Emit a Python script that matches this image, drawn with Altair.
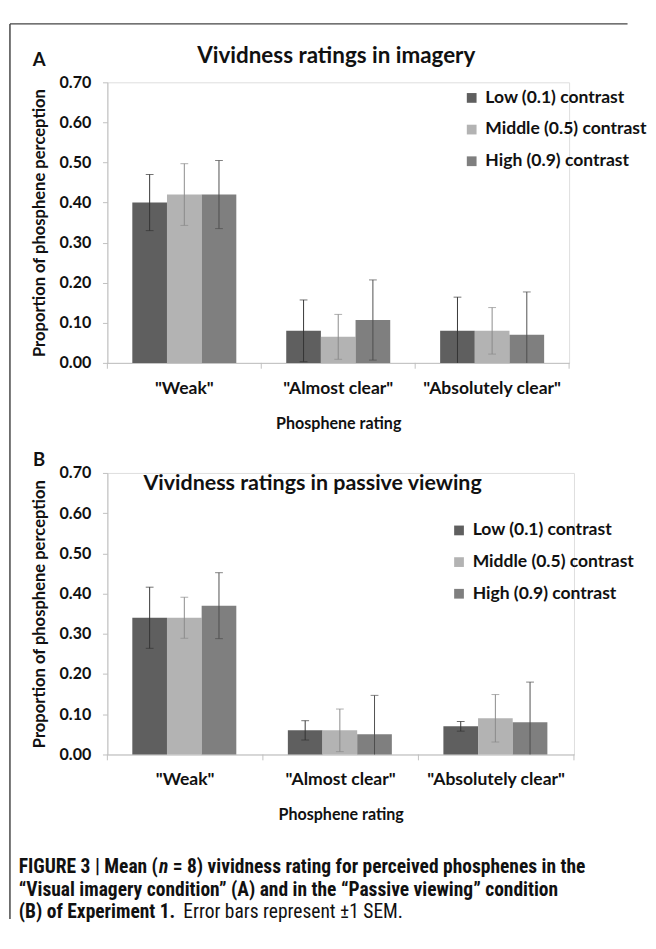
import altair as alt
import pandas as pd

categories = ['"Weak"', '"Almost clear"', '"Absolutely clear"']
series = ["Low (0.1) contrast", "Middle (0.5) contrast", "High (0.9) contrast"]
bar_colors = ["#5f5f5f", "#b3b3b3", "#7f7f7f"]
err_colors = ["#333333", "#8a8a8a", "#4d4d4d"]

# Panel A (imagery): means and SEM per contrast, across the three ratings
a_low = [0.40, 0.08, 0.08]
a_mid = [0.42, 0.065, 0.08]
a_high = [0.42, 0.107, 0.07]
a_low_sem = [0.07, 0.077, 0.084]
a_mid_sem = [0.077, 0.056, 0.058]
a_high_sem = [0.085, 0.10, 0.107]

# Panel B (passive viewing)
b_low = [0.34, 0.06, 0.07]
b_mid = [0.34, 0.06, 0.09]
b_high = [0.37, 0.05, 0.08]
b_low_sem = [0.076, 0.024, 0.012]
b_mid_sem = [0.051, 0.053, 0.059]
b_high_sem = [0.082, 0.097, 0.10]

y_ticks = [0.0, 0.1, 0.2, 0.3, 0.4, 0.5, 0.6, 0.7]

caption_l1 = ["FIGURE 3 | Mean (", "n", "= 8) vividness rating for perceived phosphenes in the"]
caption_l2 = ["\u201cVisual imagery condition\u201d (A) and in the \u201cPassive viewing\u201d condition"]
caption_l3 = ["(B) of Experiment 1.", "Error bars represent \u00b11 SEM."]

FONT = "Lato"
CAP_FONT = "Roboto Condensed"
CAP_SIZE = 20
TXT = "#111111"
AX = "#bfbfbf"


def make_df(means_list, sems_list):
    rows = []
    for s, means, sems in zip(series, means_list, sems_list):
        for c, m, e in zip(categories, means, sems):
            lo = m - e
            rows.append({
                "cat": c, "series": s, "value": m,
                "lo": max(0.0, lo), "hi": m + e,
                "locap": lo if lo >= 0 else None,
            })
    return pd.DataFrame(rows)


def xscale():
    return alt.Scale(domain=categories, paddingInner=0, paddingOuter=0)


def yscale():
    return alt.Scale(domain=[0, 0.7], nice=False)


def txt(text, x, y, size, weight="bold", align="left", font=FONT, style="normal"):
    return alt.Chart(pd.DataFrame({"t": [text]})).mark_text(
        font=font, fontSize=size, fontWeight=weight, fontStyle=style, color=TXT,
        align=align, baseline="middle"
    ).encode(x=alt.value(x), y=alt.value(y), text="t:N")


X_AXIS = alt.Axis(
    title="Phosphene rating", ticks=False, labelAngle=0,
    labelFont=FONT, labelFontSize=18, labelFontWeight="bold", labelColor=TXT,
    labelPadding=17, domainColor=AX, domainWidth=1,
    titleFont=FONT, titleFontSize=16.5, titleFontWeight="bold", titleColor=TXT,
    titlePadding=19,
)
Y_AXIS = alt.Axis(
    values=y_ticks, format=".2f", grid=False,
    labelFont=FONT, labelFontSize=16.5, labelFontWeight="bold", labelColor=TXT,
    labelPadding=12, tickColor=AX, tickSize=5, domainColor=AX,
    title="Proportion of phosphene perception",
    titleFont=FONT, titleFontSize=17, titleFontWeight="bold", titleColor=TXT,
    titlePadding=11,
)


def panel(df, H, title, title_size, title_x, title_y, title_align, letter, letter_y, lgx, lgy):
    x_enc = alt.X("cat:N", sort=categories, scale=xscale(), axis=X_AXIS)
    xoff = alt.XOffset("series:N", sort=series,
                       scale=alt.Scale(domain=series, paddingInner=0, paddingOuter=0.72))
    base = alt.Chart(df).encode(x=x_enc, xOffset=xoff)
    bars = base.mark_bar().encode(
        y=alt.Y("value:Q", scale=yscale(), axis=Y_AXIS),
        color=alt.Color(
            "series:N", sort=series, scale=alt.Scale(domain=series, range=bar_colors),
            legend=alt.Legend(
                orient="none", legendX=lgx, legendY=lgy, title=None,
                symbolType="square", symbolSize=100, symbolStrokeWidth=0,
                labelFont=FONT, labelFontSize=18, labelFontWeight="bold",
                labelColor=TXT, rowPadding=14.5, labelOffset=5, padding=0,
                labelLimit=400,
            ),
        ),
    )
    err = base.mark_rule(strokeWidth=1).encode(
        y=alt.Y("lo:Q", scale=yscale(), axis=Y_AXIS),
        y2="hi:Q",
        stroke=alt.Stroke("series:N", sort=series,
                          scale=alt.Scale(domain=series, range=err_colors), legend=None),
    )
    cap_fill = alt.Fill("series:N", sort=series,
                        scale=alt.Scale(domain=series, range=err_colors), legend=None)
    cap_hi = base.mark_tick(thickness=1, size=8, orient="horizontal").encode(
        y=alt.Y("hi:Q", scale=yscale(), axis=Y_AXIS), fill=cap_fill)
    cap_lo = base.mark_tick(thickness=1, size=8, orient="horizontal").encode(
        y=alt.Y("locap:Q", scale=yscale(), axis=Y_AXIS), fill=cap_fill)

    cat_df = pd.DataFrame({"cat": categories})
    dividers = alt.Chart(cat_df).mark_rule(color=AX, strokeWidth=1).encode(
        x=alt.X("cat:N", sort=categories, scale=xscale(), bandPosition=0, axis=X_AXIS),
        y=alt.value(H), y2=alt.value(H + 6))
    end_tick = alt.Chart(pd.DataFrame({"cat": [categories[-1]]})).mark_rule(
        color=AX, strokeWidth=1).encode(
        x=alt.X("cat:N", sort=categories, scale=xscale(), bandPosition=1, axis=X_AXIS),
        y=alt.value(H), y2=alt.value(H + 6))

    return [bars, err, cap_hi, cap_lo, dividers, end_tick,
            txt(title, title_x, title_y, title_size, align=title_align),
            txt(letter, -70, letter_y, 19, align="center")]


dfA = make_df([a_low, a_mid, a_high], [a_low_sem, a_mid_sem, a_high_sem])
dfB = make_df([b_low, b_mid, b_high], [b_low_sem, b_mid_sem, b_high_sem])

WA, HA = 474, 288
WB, HB = 479, 289

layersA = panel(dfA, HA, "Vividness ratings in imagery", 23, 235, -27, "center", "A", -23, 365, 7)
one = pd.DataFrame({"a": [0]})
frame_left = alt.Chart(one).mark_rule(color="#444444", strokeWidth=1.5).encode(
    x=alt.value(-100), x2=alt.value(-100), y=alt.value(-60), y2=alt.value(859))
frame_top = alt.Chart(one).mark_rule(color="#444444", strokeWidth=1.5).encode(
    x=alt.value(-100), x2=alt.value(534), y=alt.value(-60), y2=alt.value(-60))
chartA = alt.layer(*layersA, frame_left, frame_top).properties(width=WA, height=HA)

layersB = panel(dfB, HB, "Vividness ratings in passive viewing", 22, 37, 11, "left", "B", -13, 352, 50)
cap = [
    txt(caption_l1[0], -91, 405, CAP_SIZE, font=CAP_FONT),
    txt(caption_l1[1], 53, 405, CAP_SIZE, font=CAP_FONT, style="italic"),
    txt(caption_l1[2], 67, 405, CAP_SIZE, font=CAP_FONT),
    txt(caption_l2[0], -91, 428, CAP_SIZE, font=CAP_FONT),
    txt(caption_l3[0], -91, 451, CAP_SIZE, font=CAP_FONT),
    txt(caption_l3[1], 78, 451, CAP_SIZE, weight="normal", font=CAP_FONT),
]
chartB = alt.layer(*layersB, *cap).properties(width=WB, height=HB)

chart = alt.vconcat(chartA, chartB, spacing=113, bounds="flush").resolve_scale(
    color="independent").resolve_legend(color="independent").properties(
    padding={"left": 0, "top": 2, "right": 0, "bottom": 0}
).configure_view(strokeWidth=0, stroke="transparent").configure(font=FONT)

chart.save("out.html", embed_options={"renderer": "svg", "actions": False})
